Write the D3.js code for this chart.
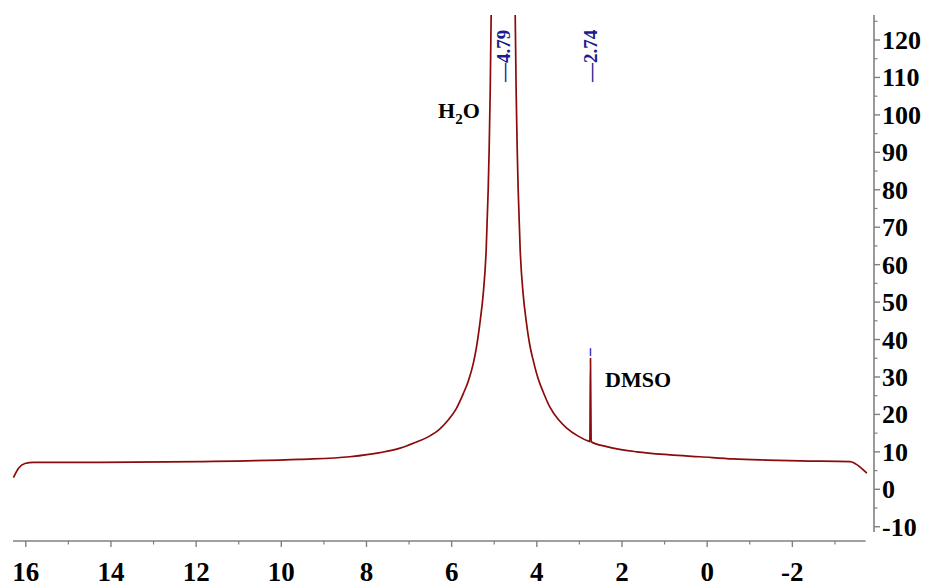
<!DOCTYPE html>
<html>
<head>
<meta charset="utf-8">
<script src="https://cdn.jsdelivr.net/npm/d3@7"></script>
<style>
  html, body { margin: 0; padding: 0; background: #fff; }
  svg { display: block; }
</style>
</head>
<body>
<svg id="chart" width="930" height="587"></svg>
<script>
// Chemical shift (ppm) and intensity
const shiftPpm = [16.29, 16.17, 16.02, 15.82, 14.26, 11.91, 9.56, 8.39, 7.68, 7.21, 6.856, 6.551, 6.269, 6.081, 5.894, 5.729, 5.612, 5.494, 5.424, 5.33, 5.26, 5.189, 5.142, 5.119, 5.095, 5.072, 5.05, 4.79, 4.53, 4.508, 4.485, 4.461, 4.438, 4.391, 4.32, 4.25, 4.156, 4.086, 3.968, 3.851, 3.686, 3.499, 3.311, 3.029, 2.77, 2.755, 2.74, 2.725, 2.36, 1.65, 0.87, 0.17, -0.61, -1.40, -2.19, -3.36, -3.47, -3.75];
const intensity = [3.1, 5.6, 6.9, 7.2, 7.2, 7.4, 8.0, 8.7, 9.8, 11.0, 12.5, 14.0, 16.2, 18.5, 21.5, 25.5, 28.8, 33.5, 37.5, 45, 52, 64, 80, 91, 106, 127, 155, 2000, 155, 127, 106, 91, 80, 64, 52, 45, 38, 34.5, 29.5, 26, 21.8, 18.7, 16.5, 14.2, 12.8, 12.75, 35.0, 12.7, 11.4, 10.0, 9.2, 8.7, 8.1, 7.8, 7.6, 7.4, 6.9, 4.3];

// Peak picks
const peakPpm = [4.79, 2.74];
const peakLabels = ["\u20144.79", "\u20142.74"];

// Axis ticks
const xMajorTicks = [16, 14, 12, 10, 8, 6, 4, 2, 0, -2];
const xMinorTicks = [15, 13, 11, 9, 7, 5, 3, 1, -1, -3];
const yMajorTicks = [-10, 0, 10, 20, 30, 40, 50, 60, 70, 80, 90, 100, 110, 120];
const yMinorTicks = [-5, 5, 15, 25, 35, 45, 55, 65, 75, 85, 95, 105, 115, 125];

const svg = d3.select("#chart");
const serif = "'Liberation Serif', 'Times New Roman', serif";
const axisColor = "#808080";

const x = d3.scaleLinear().domain([16.3, -3.72]).range([13, 865.6]);
const y = d3.scaleLinear().domain([0, 120]).range([489.3, 40]);
const yTop = 15, yBottom = 532;
const axisY = 541, axisX = 874;

svg.append("defs").append("clipPath").attr("id", "plotclip")
  .append("rect").attr("x", 0).attr("y", yTop).attr("width", axisX).attr("height", axisY - yTop);

// Spectrum
const pts = shiftPpm.map((p, i) => [p, intensity[i]]);
svg.append("path")
  .datum(pts)
  .attr("clip-path", "url(#plotclip)")
  .attr("fill", "none")
  .attr("stroke", "#8b0a0a")
  .attr("stroke-width", 1.7)
  .attr("stroke-linejoin", "round")
  .attr("d", d3.line().x(d => x(d[0])).y(d => y(d[1])).curve(d3.curveMonotoneX));

// Peak marker (blue) above DMSO peak
svg.append("line")
  .attr("x1", x(2.74)).attr("x2", x(2.74))
  .attr("y1", y(37.7)).attr("y2", y(35.6))
  .attr("stroke", "#3a3ac8").attr("stroke-width", 1.5);

// Peak labels (rotated)
peakPpm.forEach((p, i) => {
  svg.append("text")
    .attr("transform", `translate(${x(p) + 7},82) rotate(-90)`)
    .attr("font-family", serif)
    .attr("font-weight", "bold")
    .attr("font-size", 19)
    .attr("fill", "#1c1c8c")
    .attr("text-anchor", "start")
    .text(peakLabels[i]);
});

// Annotations
const h2o = svg.append("text")
  .attr("x", 438).attr("y", 118)
  .attr("font-family", serif).attr("font-weight", "bold").attr("font-size", 22)
  .attr("fill", "#000");
h2o.append("tspan").text("H");
h2o.append("tspan").attr("font-size", 15).attr("dy", 6).text("2");
h2o.append("tspan").attr("dy", -6).text("O");

svg.append("text")
  .attr("x", 605).attr("y", 387)
  .attr("font-family", serif).attr("font-weight", "bold").attr("font-size", 22)
  .attr("fill", "#000")
  .text("DMSO");

// X axis
svg.append("line")
  .attr("x1", x(16.3)).attr("x2", x(-3.72))
  .attr("y1", axisY).attr("y2", axisY)
  .attr("stroke", axisColor).attr("stroke-width", 1.6);
svg.selectAll(".xmaj").data(xMajorTicks).enter().append("line")
  .attr("x1", d => x(d)).attr("x2", d => x(d))
  .attr("y1", axisY).attr("y2", axisY + 6)
  .attr("stroke", axisColor).attr("stroke-width", 1.4);
svg.selectAll(".xmin").data(xMinorTicks).enter().append("line")
  .attr("x1", d => x(d)).attr("x2", d => x(d))
  .attr("y1", axisY).attr("y2", axisY + 3.5)
  .attr("stroke", axisColor).attr("stroke-width", 1.2);
svg.selectAll(".xlab").data(xMajorTicks).enter().append("text")
  .attr("x", d => x(d)).attr("y", 580.5)
  .attr("text-anchor", "middle")
  .attr("font-family", serif).attr("font-weight", "bold").attr("font-size", 27)
  .attr("fill", "#000")
  .text(d => d);

// Y axis (right)
svg.append("line")
  .attr("x1", axisX).attr("x2", axisX)
  .attr("y1", yTop).attr("y2", yBottom)
  .attr("stroke", axisColor).attr("stroke-width", 1.6);
svg.selectAll(".ymaj").data(yMajorTicks).enter().append("line")
  .attr("x1", axisX).attr("x2", axisX + 6)
  .attr("y1", d => y(d)).attr("y2", d => y(d))
  .attr("stroke", axisColor).attr("stroke-width", 1.4);
svg.selectAll(".ymin").data(yMinorTicks).enter().append("line")
  .attr("x1", axisX).attr("x2", axisX + 3.5)
  .attr("y1", d => y(d)).attr("y2", d => y(d))
  .attr("stroke", axisColor).attr("stroke-width", 1.2);
svg.selectAll(".ylab").data(yMajorTicks).enter().append("text")
  .attr("x", 882).attr("y", d => y(d) + 9)
  .attr("text-anchor", "start")
  .attr("font-family", serif).attr("font-weight", "bold").attr("font-size", 26)
  .attr("fill", "#000")
  .text(d => d);
</script>
</body>
</html>
